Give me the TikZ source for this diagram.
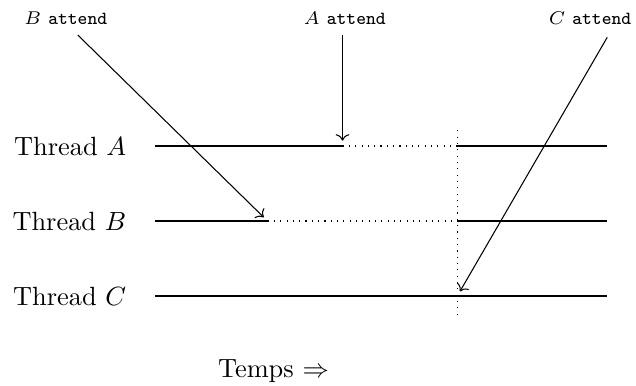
\documentclass[tikz,border=0pt]{standalone}
\usepackage{amsmath,amssymb}
\usepackage{tikz}
\usetikzlibrary{arrows.meta,positioning,calc}
\tikzset{
  fil/.style={thin},
  attente/.style={dotted},
  fleche/.style={->,shorten >=2pt},
  etiq/.style={font=\scriptsize,inner sep=1pt},
}

\begin{document}
\begin{tikzpicture}
  \useasboundingbox (-2.067,-1.187) rectangle (6.413,3.947);
  % les fils
  \node[left] (tA) at (-0.26,2) {Thread $A$};
  \node[left] (tB) at (-0.26,1) {Thread $B$};
  \node[left] (tC) at (-0.26,0) {Thread $C$};
  \draw[fil] (0,2) -- (2.5,2); \draw[attente] (2.5,2) -- (4.03,2); \draw[fil] (4.03,2) -- (6.03,2);
  \draw[fil] (0,1) -- (1.5,1); \draw[attente] (1.5,1) -- (4.03,1); \draw[fil] (4.03,1) -- (6.03,1);
  \draw[fil] (0,0) -- (6.03,0);
  \draw[attente] (4.03,-0.25) -- (4.03,2.27);
  % les attentes
  \node[etiq] (eB) at (-1.19,3.71) {$B$ \texttt{attend}};
  \node[etiq] (eA) at (2.53,3.71) {$A$ \texttt{attend}};
  \node[etiq] (eC) at (5.8,3.71) {$C$ \texttt{attend}};
  \coordinate (dB) at (-1.03,3.48); \coordinate (fB) at (1.5,1);
  \coordinate (dA) at (2.5,3.48);   \coordinate (fA) at (2.5,2);
  \coordinate (dC) at (6.03,3.45);  \coordinate (fC) at (4.03,0);
  \draw[fleche] (dB) -- (fB);
  \draw[fleche] (dA) -- (fA);
  \draw[fleche] (dC) -- (fC);
  \node (temps) at (1.58,-1) {Temps $\Rightarrow$};
\end{tikzpicture}
\end{document}
